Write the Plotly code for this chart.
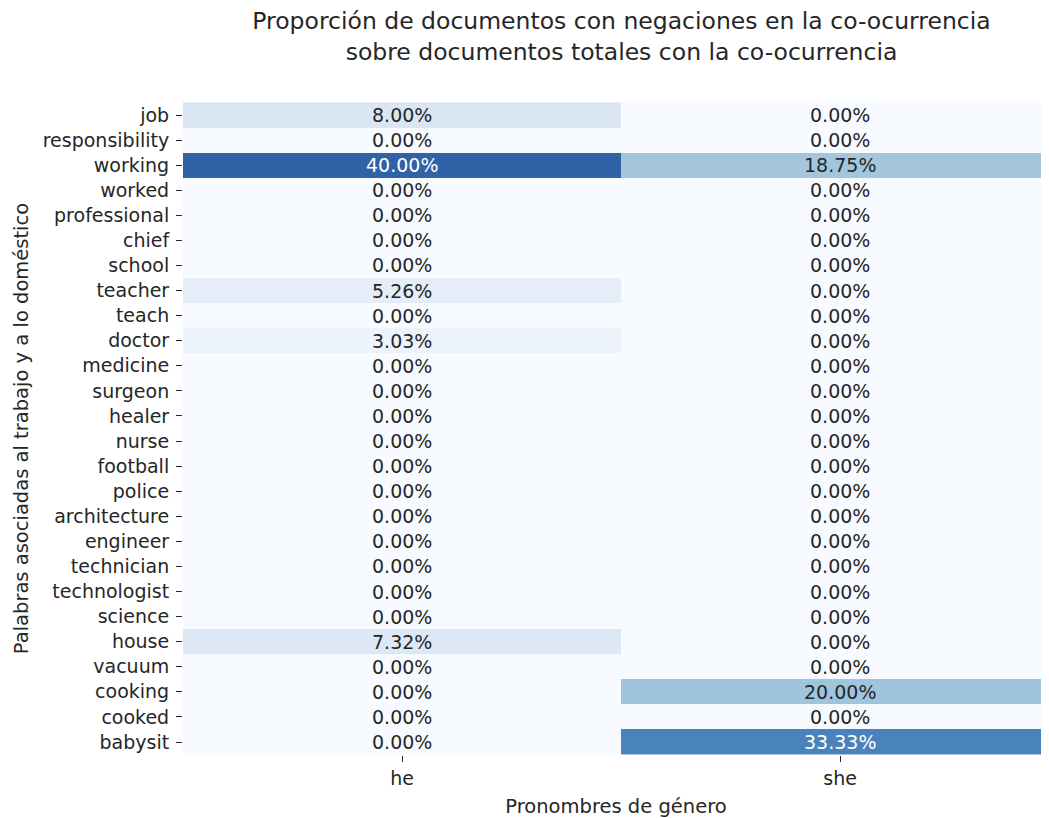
import plotly.graph_objects as go

words = ["job", "responsibility", "working", "worked", "professional", "chief", "school",
         "teacher", "teach", "doctor", "medicine", "surgeon", "healer", "nurse", "football",
         "police", "architecture", "engineer", "technician", "technologist", "science",
         "house", "vacuum", "cooking", "cooked", "babysit"]
pronouns = ["he", "she"]
he_vals = [8.00, 0.00, 40.00, 0.00, 0.00, 0.00, 0.00, 5.26, 0.00, 3.03, 0.00, 0.00, 0.00,
           0.00, 0.00, 0.00, 0.00, 0.00, 0.00, 0.00, 0.00, 7.32, 0.00, 0.00, 0.00, 0.00]
she_vals = [0.00, 0.00, 18.75, 0.00, 0.00, 0.00, 0.00, 0.00, 0.00, 0.00, 0.00, 0.00, 0.00,
            0.00, 0.00, 0.00, 0.00, 0.00, 0.00, 0.00, 0.00, 0.00, 0.00, 20.00, 0.00, 33.33]

# Blues-like colour ramp (as it appears in the reference)
colorscale = [
    [0.0, "#f7fbff"], [0.16, "#dae6f4"], [0.375, "#a3c6dd"], [0.4, "#9ec4de"],
    [0.667, "#4a83bb"], [0.8, "#3063a5"], [1.0, "#1c4585"],
]

z = [[h, s] for h, s in zip(he_vals, she_vals)]

fig = go.Figure()
fig.add_trace(go.Heatmap(
    z=z, x=pronouns, y=words, colorscale=colorscale, zmin=0, zmax=50,
    showscale=False, hoverinfo="skip", xgap=0, ygap=0,
))

FONT = "DejaVu Sans"
TXT = "#262626"
ann = []
for w, h, s in zip(words, he_vals, she_vals):
    for p, v in ((pronouns[0], h), (pronouns[1], s)):
        ann.append(dict(
            x=p, y=w, xref="x", yref="y", text=f"{v:.2f}%", showarrow=False,
            font=dict(family=FONT, size=19, color="white" if v >= 30 else TXT),
        ))

W, H = 1041, 810  # page body has an 8px margin in the 1049x818 window

fig.update_layout(
    width=W, height=H,
    margin=dict(l=175, r=0, t=94, b=63),
    paper_bgcolor="white", plot_bgcolor="white",
    font=dict(family=FONT, size=19, color=TXT),
    title=dict(
        text="Proporción de documentos con negaciones en la co-ocurrencia<br>sobre documentos totales con la co-ocurrencia",
        x=613.5 / W, xref="container", xanchor="center",
        y=1 - 21 / H, yref="container", yanchor="top",
        font=dict(family=FONT, size=23.5, color=TXT),
    ),
    xaxis=dict(
        type="category", range=[-0.5, 1.477], showgrid=False, zeroline=False,
        showline=False, ticks="outside", ticklen=6, tickwidth=1, tickcolor=TXT,
        tickfont=dict(family=FONT, size=19, color=TXT),
        title=dict(text="Pronombres de género", standoff=12,
                   font=dict(family=FONT, size=19.5, color=TXT)),
    ),
    yaxis=dict(
        type="category", autorange="reversed", showgrid=False, zeroline=False,
        showline=False, ticks="outside", ticklen=6, tickwidth=1, tickcolor=TXT,
        ticklabelstandoff=3,
        tickfont=dict(family=FONT, size=19, color=TXT),
        title=dict(text="Palabras asociadas al trabajo y a lo doméstico", standoff=8,
                   font=dict(family=FONT, size=19.5, color=TXT)),
    ),
    annotations=ann,
)

fig.write_html("out.html")
